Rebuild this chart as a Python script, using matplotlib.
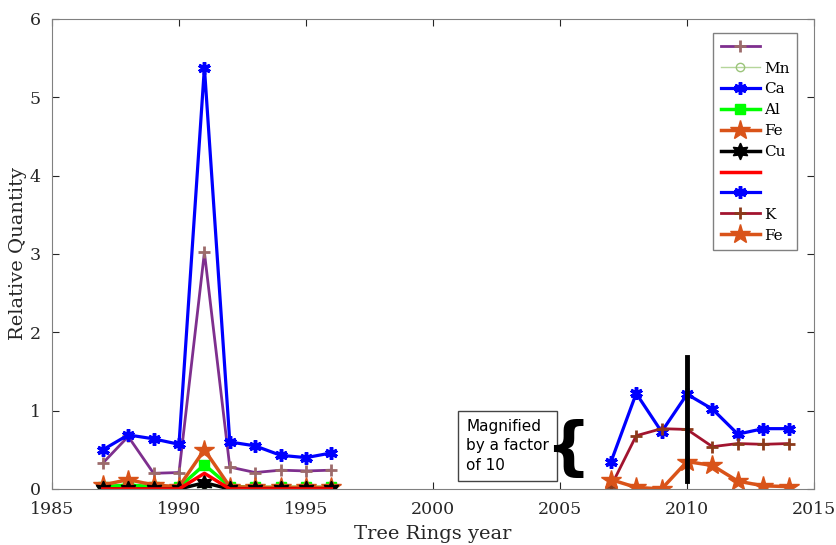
import numpy as np
import matplotlib.pyplot as plt

# years of the two sampling periods
years_a = [1987, 1988, 1989, 1990, 1991, 1992, 1993, 1994, 1995, 1996]
years_b = [2007, 2008, 2009, 2010, 2011, 2012, 2013, 2014]

# first period (raw quantities)
mix_a = [0.33, 0.67, 0.20, 0.21, 3.02, 0.28, 0.21, 0.24, 0.23, 0.24]
mn_a = [0.01, 0.01, 0.01, 0.01, 0.06, 0.01, 0.01, 0.01, 0.01, 0.01]
ca_a = [0.50, 0.69, 0.64, 0.57, 5.38, 0.60, 0.55, 0.43, 0.40, 0.46]
al_a = [0.03, 0.05, 0.03, 0.02, 0.31, 0.03, 0.02, 0.02, 0.02, 0.02]
fe_a = [0.05, 0.12, 0.05, 0.03, 0.50, 0.03, 0.02, 0.02, 0.02, 0.02]
cu_a = [0.00, 0.00, 0.00, 0.00, 0.08, 0.00, 0.00, 0.00, 0.00, 0.00]
red_a = [0.00, 0.00, 0.00, 0.00, 0.20, 0.00, 0.00, 0.00, 0.00, 0.00]

# second period (magnified by 10)
ca_b = [0.34, 1.22, 0.73, 1.21, 1.02, 0.70, 0.77, 0.77]
k_b = [0.03, 0.68, 0.77, 0.76, 0.54, 0.58, 0.57, 0.58]
fe_b = [0.12, 0.02, 0.00, 0.35, 0.30, 0.10, 0.04, 0.03]

ORANGE = '#D95319'
hexagram = (6, 1, 0)
asterisk = (6, 2, 0)
SERIF = 'DejaVu Serif'

fig = plt.figure(figsize=(8.36, 5.45), dpi=100)
ax = fig.add_axes([0.0622, 0.1028, 0.9115, 0.8624])

ax.plot(years_a, mix_a, color='#7E2F8E', lw=2, marker='+', ms=9, mew=2, mec='#9C6B6B', label=' ')
ax.plot(years_a, mn_a, color='#B5D69A', lw=1, marker='o', ms=6, mfc='none', mec='#9BC47A', label='Mn')
ax.plot(years_a, ca_a, color='#0000FF', lw=2.3, marker=asterisk, ms=9, mew=2.5, label='Ca')
ax.plot(years_a, al_a, color='#00FF00', lw=2.5, marker='s', ms=7, label='Al')
ax.plot(years_a, fe_a, color=ORANGE, lw=2.5, marker='*', ms=15, label='Fe')
ax.plot(years_a, cu_a, color='black', lw=2.5, marker=hexagram, ms=12, label='Cu')
ax.plot(years_a, red_a, color='#FF0000', lw=2.5, label=' ')

ax.plot(years_b, ca_b, color='#0000FF', lw=2.3, marker=asterisk, ms=9, mew=2.5, label=' ')
ax.plot(years_b, k_b, color='#A2142F', lw=2, marker='+', ms=9, mew=2, mec='#8B3A1A', label='K')
ax.plot(years_b, fe_b, color=ORANGE, lw=2.5, marker='*', ms=15, label='Fe')

# marker line at 2010
ax.plot([2010, 2010], [0.1, 1.68], color='black', lw=3.5)

ax.text(2001.3, 0.55, 'Magnified\nby a factor\nof 10', fontsize=11, family='DejaVu Sans',
        va='center', ha='left', linespacing=1.4,
        bbox=dict(boxstyle='square,pad=0.5', fc='white', ec='#444444', lw=1))
ax.text(2005.3, 0.5, '{', fontsize=46, va='center', ha='center', family='DejaVu Sans',
        fontweight='bold')

ax.set_xlim(1985, 2015)
ax.set_ylim(0, 6)
ax.set_xticks(np.arange(1985, 2016, 5))
ax.set_yticks(np.arange(0, 7, 1))
ax.tick_params(direction='in', top=True, right=True, labelsize=12.5, colors='#262626', length=5)
ax.tick_params(axis='x', pad=9)
ax.tick_params(axis='y', pad=8)
for lab in ax.get_xticklabels() + ax.get_yticklabels():
    lab.set_family(SERIF)
for s in ax.spines.values():
    s.set_color('#808080')

ax.set_xlabel('Tree Rings year', fontsize=14, color='#262626', labelpad=5, family=SERIF)
ax.set_ylabel('Relative Quantity', fontsize=14, color='#262626', labelpad=2, family=SERIF)

leg = ax.legend(loc='upper right', bbox_to_anchor=(0.978, 0.970), fancybox=False,
                edgecolor='#808080', framealpha=1, handlelength=2.6, handletextpad=0.25,
                labelspacing=0.45, borderpad=0.5, borderaxespad=0,
                prop={'family': SERIF, 'size': 11})
leg.get_frame().set_linewidth(1)

fig.savefig('out.png', dpi=100)
